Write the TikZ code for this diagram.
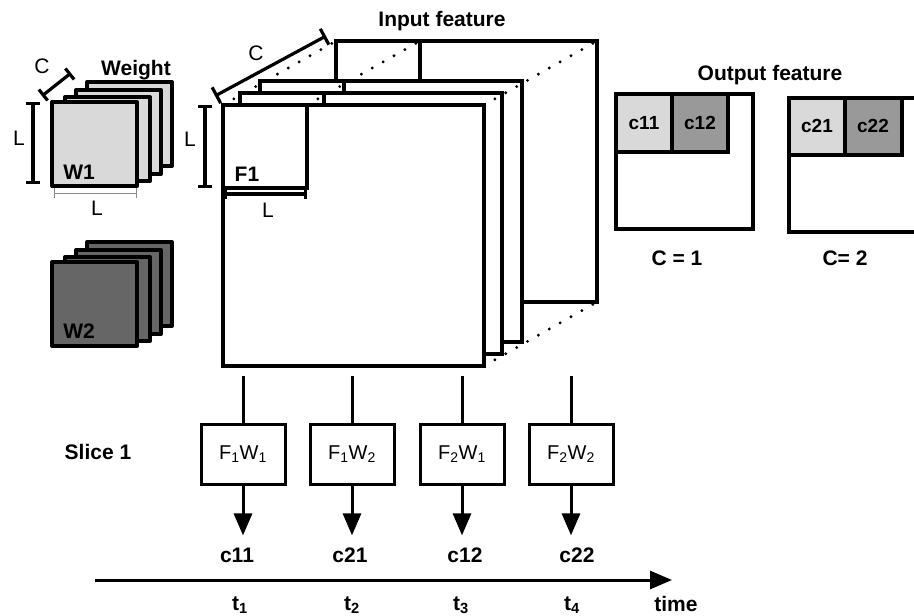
\documentclass[tikz,border=0pt]{standalone}
\usepackage{fontspec}
\setmainfont{Liberation Sans}
\usetikzlibrary{arrows.meta}
\definecolor{wlight}{HTML}{D9D9D9}
\definecolor{wdark}{HTML}{666666}
\definecolor{cmid}{HTML}{999999}
\definecolor{thingray}{HTML}{888888}
\begin{document}
\begin{tikzpicture}[x=1pt,y=-1pt,
  lbl/.style={font=\fontsize{21}{24}\selectfont\bfseries, inner sep=0pt},
  reg/.style={font=\fontsize{21}{24}\selectfont, inner sep=0pt},
  clbl/.style={font=\fontsize{19}{22}\selectfont\bfseries, inner sep=0pt},
  wbox/.style={draw, line width=4pt, line join=round},
  layer/.style={draw, fill=white, line width=3.4pt, line join=miter},
  subsq/.style={draw, line width=3.4pt},
  dotline/.style={line width=3.2pt, line cap=round, dash pattern=on 0pt off 12.5pt},
  opbox/.style={draw, line width=3pt, minimum width=84pt, minimum height=60pt, inner sep=0pt, font=\fontsize{20}{24}\selectfont},
  flow/.style={line width=3pt, -{Triangle[length=22pt,width=18pt]}},
  feed/.style={line width=3pt},
  dimbar/.style={line width=3.2pt, {Bar[width=14pt,line width=3.2pt]}-{Bar[width=14pt,line width=3.2pt]}},
  thindim/.style={line width=1pt, draw=thingray, {Bar[width=10pt,line width=1pt]}-{Bar[width=10pt,line width=1pt]}},
  outbox/.style={draw, line width=3.4pt}
]
\useasboundingbox (0,0) rectangle (914,616);
\clip (0,0) rectangle (914,616);

% ---------- Weight W1 ----------
\foreach \dx/\dy in {35/-20, 24/-12, 13/-5, 0/0}
  \draw[wbox, fill=wlight] (52+\dx,102+\dy) rectangle ++(85,84);
\node[lbl] (w1) at (79,172) {W1};
\node[lbl] (weight) at (136,70) {Weight};
\coordinate (wc1) at (42,96);
\coordinate (wc2) at (71,73);
\draw[dimbar] (wc1) -- (wc2);
\node[reg] (wclab) at (42,66) {C};
\coordinate (wl1) at (33,102);
\coordinate (wl2) at (33,184);
\draw[dimbar] (wl1) -- (wl2);
\node[reg] (wllab) at (19,138) {L};
\coordinate (wb1) at (54,193);
\coordinate (wb2) at (137,193);
\draw[thindim] (wb1) -- (wb2);
\node[reg] (wblab) at (97,208) {L};

% ---------- Weight W2 ----------
\foreach \dx/\dy in {35/-20, 24/-12, 13/-5, 0/0}
  \draw[wbox, fill=wdark] (52+\dx,262+\dy) rectangle ++(85,84);
\node[lbl] (w2) at (79,331) {W2};

% ---------- Input feature ----------
\draw[layer] (336,41) rectangle (597,302);
\draw[subsq] (336,41) rectangle (420,125);
\draw[layer] (260,81) rectangle (522,342);
\draw[subsq] (260,81) rectangle (344,165);
\draw[layer] (240,93) rectangle (502,354);
\draw[subsq] (240,93) rectangle (324,177);
\draw[layer] (223,105) rectangle (484,366);
\draw[subsq] (223,105) rectangle (307,188);
\draw[dotline] (223,105) -- (336,41);
\draw[dotline] (307,105) -- (420,41);
\draw[dotline] (484,105) -- (597,41);
\draw[dotline] (484,366) -- (597,302);
\node[lbl] (inputfeat) at (442,21) {Input feature};
\node[lbl] (f1) at (247,174) {F1};
\coordinate (ic1) at (215,96);
\coordinate (ic2) at (326,36);
\draw[line width=3.2pt, {Bar[width=18pt,line width=3.2pt]}-{Bar[width=18pt,line width=3.2pt]}] (ic1) -- (ic2);
\node[reg] (iclab) at (256,53) {C};
\coordinate (il1) at (205,105);
\coordinate (il2) at (205,188);
\draw[dimbar] (il1) -- (il2);
\node[reg] (illab) at (190,139) {L};
\coordinate (ib1) at (224,194);
\coordinate (ib2) at (307,194);
\draw[line width=3.2pt, {Bar[width=10pt,line width=3.2pt]}-{Bar[width=10pt,line width=3.2pt]}] (ib1) -- (ib2);
\node[reg] (iblab) at (268,210) {L};

% ---------- Output feature ----------
\node[lbl] (outfeat) at (770,75) {Output feature};
\draw[outbox, fill=wlight] (616,94) rectangle (672,152);
\draw[outbox, fill=cmid] (672,94) rectangle (728,152);
\draw[outbox] (616,94) rectangle (753,229);
\node[clbl] (o11) at (644,123) {c11};
\node[clbl] (o12) at (700,123) {c12};
\draw[outbox, fill=wlight] (789,98) rectangle (845,155);
\draw[outbox, fill=cmid] (845,98) rectangle (902,155);
\draw[outbox] (789,98) rectangle (940,232);
\node[clbl] (o21) at (817,126) {c21};
\node[clbl] (o22) at (873,126) {c22};
\node[lbl] (cone) at (677,258) {C = 1};
\node[lbl] (ctwo) at (845,258) {C= 2};

% ---------- Slices ----------
\node[lbl] (slice) at (98,452) {Slice 1};
\foreach \i/\x/\txt/\cl/\cx in {1/243/F\textsubscript{1}W\textsubscript{1}/c11/237,
                                2/352/F\textsubscript{1}W\textsubscript{2}/c21/350,
                                3/462/F\textsubscript{2}W\textsubscript{1}/c12/465,
                                4/571/F\textsubscript{2}W\textsubscript{2}/c22/577} {
  \coordinate (s\i) at (\x,376);
  \node[opbox] (b\i) at (\x,454) {\txt};
  \node[lbl] (r\i) at (\cx,555) {\cl};
  \draw[feed] (s\i) -- (b\i.north);
  \draw[flow, shorten >=12pt] (b\i.south) -- (b\i.south |- r\i.north);
}

% ---------- Time axis ----------
\coordinate (ta) at (95,580);
\coordinate (tb) at (672,580);
\draw[flow] (ta) -- (tb);
\node[lbl] (t1) at (240,605) {t\textsubscript{1}};
\node[lbl] (t2) at (352,605) {t\textsubscript{2}};
\node[lbl] (t3) at (461,605) {t\textsubscript{3}};
\node[lbl] (t4) at (572,605) {t\textsubscript{4}};
\node[lbl] (time) at (676,604) {time};
\end{tikzpicture}
\end{document}
